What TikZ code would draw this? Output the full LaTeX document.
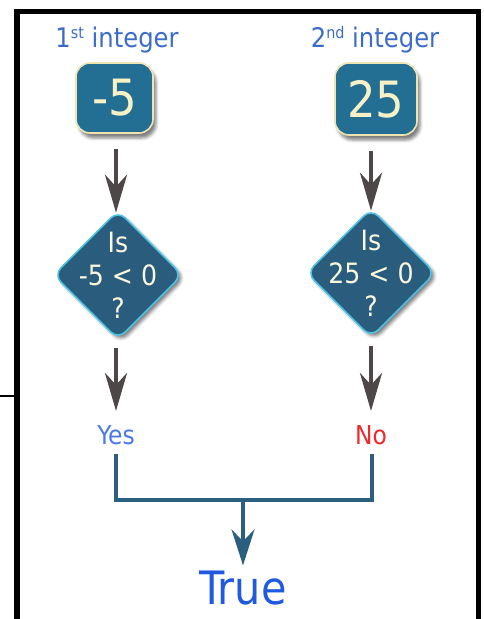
\documentclass[tikz,border=0pt]{standalone}
\usepackage{fontspec}
\setmainfont{DejaVu Sans Condensed}
\usetikzlibrary{arrows.meta,shapes.geometric,shadows.blur}
\definecolor{boxfill}{HTML}{236E93}
\definecolor{boxline}{HTML}{EFE3B0}
\definecolor{boxtext}{HTML}{F6F1C6}
\definecolor{diafill}{HTML}{2A5C7E}
\definecolor{dialine}{HTML}{4CC4E4}
\definecolor{labblue}{HTML}{3C6CC8}
\definecolor{yesblue}{HTML}{4A78E8}
\definecolor{nored}{HTML}{F02828}
\definecolor{trueblue}{HTML}{1F5AE0}
\definecolor{greyarrow}{HTML}{4D4747}
\definecolor{joinline}{HTML}{2A5F80}
\tikzset{
  numbox/.style={draw=boxline, line width=1.6pt, fill=boxfill, rounded corners=14pt,
    text=boxtext, font=\fontsize{50}{50}\selectfont, inner sep=0pt,
    blur shadow={shadow xshift=3pt, shadow yshift=-5pt, shadow blur radius=3pt, shadow opacity=50}},
  decide/.style={diamond, aspect=1, draw=dialine, line width=1.6pt, fill=diafill,
    rounded corners=10pt, minimum width=129pt, minimum height=129pt, inner sep=0pt,
    blur shadow={shadow xshift=3pt, shadow yshift=-3pt, shadow blur radius=3pt, shadow opacity=50}},
  diatext/.style={text=boxtext!60!white, align=center, inner sep=0pt,
    font=\fontsize{28}{33}\selectfont},
  toplabel/.style={text=labblue, font=\fontsize{27}{27}\selectfont, inner sep=0pt},
  garrow/.style={draw=greyarrow, line width=4.5pt, -{Stealth[length=38pt, width=22pt, inset=12pt]}},
  jline/.style={draw=joinline, line width=4pt},
  jarrow/.style={draw=joinline, line width=4pt, -{Stealth[length=36pt, width=23pt, inset=12pt]}},
  frameline/.style={draw=black, line width=5.5pt},
}
\newcommand{\supx}[1]{\raisebox{0.6ex}{\fontsize{16}{16}\selectfont #1}}
\begin{document}
\begin{tikzpicture}[x=1pt, y=-1pt]
\useasboundingbox (0,0) rectangle (483,619);
% frame
\draw[frameline] (17,619) -- (17,11.5) -- (478.5,11.5) -- (478.5,619);
\draw[draw=black, line width=2.5pt] (0,396) -- (17,396);
% top labels
\node[toplabel] (lab1) at (117,40) {1\supx{st} integer};
\node[toplabel] (lab2) at (375,40) {2\supx{nd} integer};
% number boxes
\node[numbox, minimum width=77pt, minimum height=70pt] (box1) at (114.5,98) {-5};
\node[numbox, minimum width=82pt, minimum height=72pt] (box2) at (376,99) {25};
% decisions
\node[decide] (dia1) at (118,275) {};
\node[diatext] (dia1t) at (dia1.center) {Is\\-5 < 0\\?};
\node[decide] (dia2) at (371,273) {};
\node[diatext] (dia2t) at (dia2.center) {Is\\25 < 0\\?};
% outcomes
\node[text=yesblue, font=\fontsize{26}{26}\selectfont] (yes) at (116,435) {Yes};
\node[text=nored, font=\fontsize{26}{26}\selectfont] (no) at (371,435) {No};
\node[text=trueblue, font=\fontsize{46}{46}\selectfont] (tru) at (243,588) {True};
% arrows
\draw[garrow] (box1.south -| yes) ++(0,15) coordinate (a1) -- ([yshift=-3pt]a1 |- dia1.north);
\draw[garrow] (box2.south -| no) ++(0,15) coordinate (a2) -- ([yshift=-3pt]a2 |- dia2.north);
\draw[garrow] (dia1.south -| yes) ++(0,8) coordinate (b1) -- (116,411);
\draw[garrow] (dia2.south -| no) ++(0,8) coordinate (b2) -- (371,411);
% join
\coordinate (j1) at (116,500);
\coordinate (j2) at (372,500);
\coordinate (jm) at (243,500);
\draw[jline, line join=miter] ([yshift=-6pt]yes.south) -- (j1) -- (j2) -- ([yshift=-6pt]no.south -| j2);
\draw[jarrow] (jm) -- ([yshift=2pt]tru.north);
\end{tikzpicture}
\end{document}
